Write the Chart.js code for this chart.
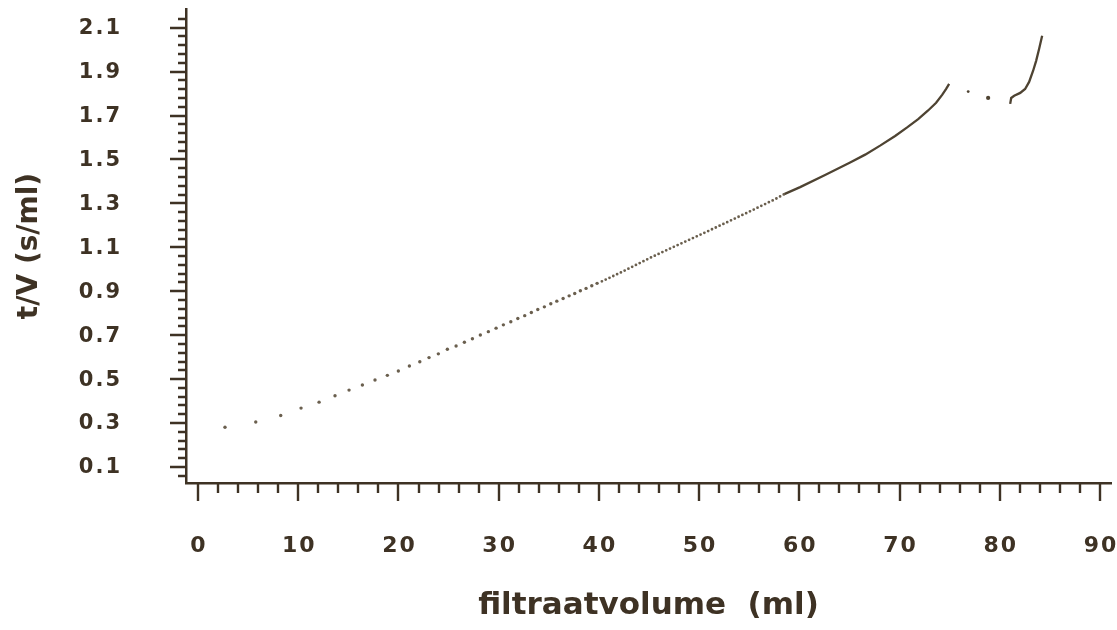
<!DOCTYPE html>
<html lang="nl">
<head>
<meta charset="UTF-8"/>
<script src="https://cdn.jsdelivr.net/npm/chart.js"></script>
<style>
    html, body { margin: 0; padding: 0; background: #fff; }
</style>
</head>
<body>
<canvas id="filtratieChart" width="1117" height="630"></canvas>
<script type="application/javascript">

// single readings at the start of the run (ml, s/ml)
const dotVolume = [2.69, 5.76, 8.25, 10.28, 12.08, 13.67, 15.07, 16.40, 17.66, 18.89, 19.99, 21.09, 22.13, 23.05,
    23.98, 24.88, 25.75, 26.58, 27.38, 28.17, 28.97, 29.74, 30.47, 31.21, 31.91, 32.60, 33.26, 33.90, 34.56, 35.20,
    35.80, 36.43, 37.03, 37.59, 38.15, 38.72, 39.29, 39.82];
const dotRatio = [0.281, 0.305, 0.334, 0.368, 0.395, 0.424, 0.450, 0.473, 0.496, 0.517, 0.537, 0.560, 0.579, 0.598,
    0.615, 0.636, 0.651, 0.668, 0.684, 0.701, 0.716, 0.732, 0.747, 0.761, 0.776, 0.789, 0.803, 0.817, 0.829, 0.843,
    0.855, 0.867, 0.879, 0.890, 0.902, 0.913, 0.925, 0.936];

// dense part, dots still visible one by one
const denseVolume = [40.3, 42.12, 45.11, 47.60, 50.10, 52.59, 55.09, 57.58, 58.5];
const denseRatio = [0.945, 0.984, 1.052, 1.105, 1.157, 1.210, 1.264, 1.319, 1.342];

// dots run together into a line
const solidVolume = [58.5, 60.08, 62.57, 65.07, 66.57, 68.06, 69.56, 70.76, 71.86, 72.85, 73.65, 74.25, 74.65, 74.95];
const solidRatio = [1.342, 1.374, 1.429, 1.486, 1.522, 1.563, 1.607, 1.646, 1.684, 1.723, 1.758, 1.794, 1.821, 1.844];

// two loose points in the gap
const looseVolume = [76.85, 78.84];
const looseRatio = [1.809, 1.780];

// last piece, after the gap
const tailVolume = [81.04, 81.14, 81.44, 82.04, 82.53, 82.93, 83.33, 83.63, 83.93, 84.23];
const tailRatio = [1.753, 1.780, 1.790, 1.803, 1.821, 1.853, 1.904, 1.949, 2.004, 2.063];

// axes
const xTickValues = [0, 10, 20, 30, 40, 50, 60, 70, 80, 90];
const xTickLabels = ['0', '10', '20', '30', '40', '50', '60', '70', '80', '90'];
const yTickValues = [0.1, 0.3, 0.5, 0.7, 0.9, 1.1, 1.3, 1.5, 1.7, 1.9, 2.1];
const yTickLabels = ['0.1', '0.3', '0.5', '0.7', '0.9', '1.1', '1.3', '1.5', '1.7', '1.9', '2.1'];

const ink = '#3e3224';
const dotInk = '#6a5f4e';
const lineInk = '#4e4332';

const zip = (xs, ys) => xs.map((x, i) => ({x, y: ys[i]}));

// tick marks and labels drawn on the scales (long at labels, short in between)
const tickPlugin = {
    id: 'tickMarks',
    afterDraw(chart) {
        const {ctx, scales: {x, y}} = chart;
        ctx.save();
        ctx.strokeStyle = ink;
        ctx.lineWidth = 2.4;
        ctx.beginPath();
        for (let v = 0; v <= 90.001; v += 2) {
            const px = Math.round(x.getPixelForValue(v));
            const len = Math.abs(v % 10) < 0.001 ? 18 : 10;
            ctx.moveTo(px, x.top);
            ctx.lineTo(px, x.top + len);
        }
        for (let k = -1; k <= 51; k++) {
            const v = 0.1 + k * 0.04;
            if (v < y.min || v > y.max) continue;
            const py = Math.round(y.getPixelForValue(v));
            const len = k % 5 === 0 ? 16 : 8;
            ctx.moveTo(y.right, py);
            ctx.lineTo(y.right - len, py);
        }
        ctx.stroke();

        ctx.fillStyle = ink;
        ctx.letterSpacing = '2px';
        ctx.textBaseline = 'middle';
        ctx.font = 'bold 22px "DejaVu Sans"';
        ctx.textAlign = 'center';
        xTickValues.forEach((v, i) => {
            ctx.fillText(xTickLabels[i], x.getPixelForValue(v) + 1, x.top + 63);
        });
        ctx.font = 'bold 21px "DejaVu Sans"';
        ctx.textAlign = 'right';
        yTickValues.forEach((v, i) => {
            ctx.fillText(yTickLabels[i], y.right - 64, y.getPixelForValue(v) + 1);
        });
        ctx.restore();
    }
};

const config = {
    type: 'scatter',
    data: {
        datasets: [
            {
                label: 'punten',
                data: zip(dotVolume, dotRatio),
                backgroundColor: dotInk,
                borderWidth: 0,
                pointRadius: 1.7
            },
            {
                label: 'dicht',
                data: zip(denseVolume, denseRatio),
                showLine: true,
                borderColor: dotInk,
                borderWidth: 2.8,
                borderDash: [0, 4.2],
                borderCapStyle: 'round',
                pointRadius: 0
            },
            {
                label: 'lijn',
                data: zip(solidVolume, solidRatio),
                showLine: true,
                borderColor: lineInk,
                borderWidth: 2.3,
                pointRadius: 0
            },
            {
                label: 'los',
                data: zip(looseVolume, looseRatio),
                backgroundColor: lineInk,
                borderWidth: 0,
                pointRadius: [1.4, 2.1]
            },
            {
                label: 'eind',
                data: zip(tailVolume, tailRatio),
                showLine: true,
                borderColor: lineInk,
                borderWidth: 2.3,
                pointRadius: 0
            }
        ]
    },
    options: {
        responsive: false,
        animation: false,
        devicePixelRatio: 1,
        layout: {padding: {top: 9, right: 6, left: 0, bottom: 0}},
        plugins: {
            legend: {display: false},
            tooltip: {enabled: false}
        },
        scales: {
            x: {
                type: 'linear',
                min: -1.2,
                max: 91.1,
                grid: {display: false},
                border: {display: true, color: ink, width: 2.5},
                ticks: {display: false},
                title: {
                    display: true,
                    text: 'filtraatvolume  (ml)',
                    color: ink,
                    font: {family: '"DejaVu Sans"', size: 31, weight: 'bold'},
                    padding: {bottom: 5}
                },
                afterFit(scale) { scale.height = 147; }
            },
            y: {
                type: 'linear',
                min: 0.027,
                max: 2.185,
                grid: {display: false},
                border: {display: true, color: ink, width: 2.5},
                ticks: {display: false},
                title: {
                    display: true,
                    text: 't/V (s/ml)',
                    color: ink,
                    font: {family: '"DejaVu Sans"', size: 28, weight: 'bold'},
                    padding: {top: 13}
                },
                afterFit(scale) { scale.width = 186; }
            }
        }
    },
    plugins: [tickPlugin]
};

const ctx = document.getElementById('filtratieChart');
const filtratieChart = new Chart(ctx, config);
</script>
</body>
</html>
